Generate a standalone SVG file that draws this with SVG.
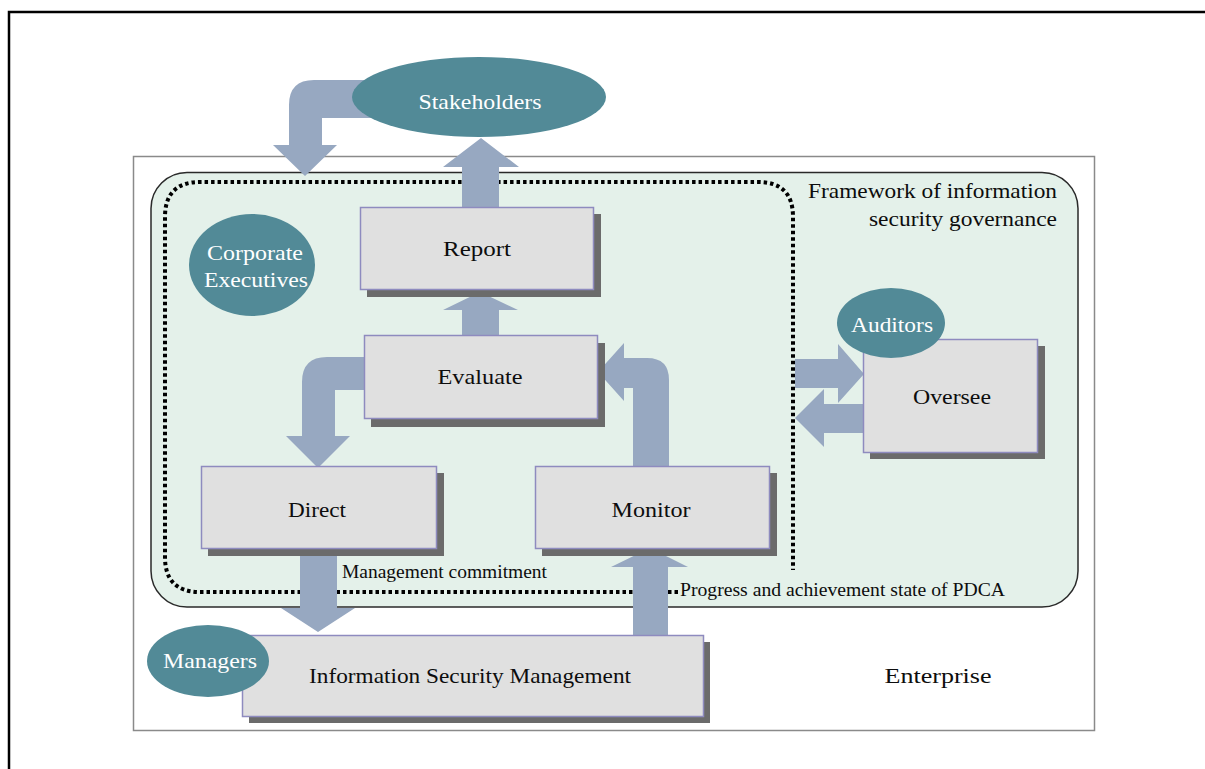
<svg xmlns="http://www.w3.org/2000/svg" width="1205" height="769" viewBox="0 0 1205 769">
<style>
.lbl{font-family:"Liberation Serif","Times New Roman",serif;font-size:22px;fill:#0d0d0d;text-anchor:middle}
.wl{font-family:"Liberation Serif","Times New Roman",serif;font-size:22px;fill:#ffffff;text-anchor:middle}
.sm{font-family:"Liberation Serif","Times New Roman",serif;font-size:18px;fill:#0d0d0d}
.box{fill:#e0e0e0;stroke:#8e8bbf;stroke-width:1.5}
.shadow{fill:#6b6b6b}
.ell{fill:#528a97}
.arr{fill:#97a8c1}
</style>
<rect x="0" y="0" width="1205" height="769" fill="#ffffff"/>
<path d="M9 769 V12 H1205" fill="none" stroke="#000" stroke-width="2.5"/>
<g id="enterprise">
<rect x="133.5" y="156.5" width="961" height="574" fill="#ffffff" stroke="#8a8a8a" stroke-width="1.5"/>
<text class="lbl" x="938" y="683" textLength="107" lengthAdjust="spacingAndGlyphs">Enterprise</text>
</g>
<g id="framework">
<rect x="151" y="172.5" width="927" height="434.5" rx="36" ry="36" fill="#e4f1ea" stroke="#2a2a2a" stroke-width="1.5"/>
<text class="lbl" x="1057" y="198" style="text-anchor:end" textLength="249" lengthAdjust="spacingAndGlyphs">Framework of information</text>
<text class="lbl" x="1057" y="226" style="text-anchor:end" textLength="188" lengthAdjust="spacingAndGlyphs">security governance</text>
</g>
<g id="pdca-boundary">
<path d="M678 592 H200 Q165 592 165 557 V217 Q165 182 200 182 H758 Q793 182 793 217 V570" fill="none" stroke="#000" stroke-width="4" stroke-dasharray="3.5 3"/>
<text class="sm" x="342" y="578" textLength="205" lengthAdjust="spacingAndGlyphs">Management commitment</text>
<text class="sm" x="680" y="596" textLength="325" lengthAdjust="spacingAndGlyphs">Progress and achievement state of PDCA</text>
</g>
<g id="connectors">
<path class="arr" d="M380 80 H314 Q289 80 289 105 V145 H273 L305 176 L337 145 H322 V118 H380 Z"/>
<path class="arr" d="M462 207 V167 H443 L481 138 L519 167 H499 V207 Z"/>
<path class="arr" d="M462 335 V310 H443 L480 292 L518 310 H499 V335 Z"/>
<path class="arr" d="M364 357 H327 Q302 357 302 382 V436 H286 L318 468 L350 436 H335 V390 H364 Z"/>
<path class="arr" d="M633 466 V388 H624 V401 L598 372 L624 343 V358 H647 Q669 358 669 380 V466 Z"/>
<path class="arr" d="M795 359 H838 V344 L864 374 L838 403 V388 H795 Z"/>
<path class="arr" d="M864 404 H824 V389 L795 418 L824 447 V433 H864 Z"/>
<path class="arr" d="M300 548 V608 H281 L318 632 L355 608 H337 V548 Z"/>
<path class="arr" d="M633 636 V567 H611 L650 548 L688 567 H668 V636 Z"/>
</g>
<g id="stakeholders">
<ellipse class="ell" cx="479" cy="97" rx="127" ry="40"/>
<text class="wl" x="480" y="109" textLength="123" lengthAdjust="spacingAndGlyphs">Stakeholders</text>
</g>
<g id="report">
<rect class="shadow" x="367" y="214" width="234" height="83"/>
<rect class="box" x="360.5" y="207.5" width="233" height="82"/>
<text class="lbl" x="477" y="256" textLength="68" lengthAdjust="spacingAndGlyphs">Report</text>
</g>
<g id="corporate-executives">
<ellipse class="ell" cx="252" cy="265" rx="63" ry="51"/>
<text class="wl" x="255" y="260" textLength="96" lengthAdjust="spacingAndGlyphs">Corporate</text>
<text class="wl" x="256" y="287" textLength="104" lengthAdjust="spacingAndGlyphs">Executives</text>
</g>
<g id="evaluate">
<rect class="shadow" x="371" y="343" width="234" height="84"/>
<rect class="box" x="364.5" y="335.5" width="233" height="83"/>
<text class="lbl" x="480" y="384" textLength="85" lengthAdjust="spacingAndGlyphs">Evaluate</text>
</g>
<g id="direct">
<rect class="shadow" x="208" y="473" width="236" height="83"/>
<rect class="box" x="201.5" y="466.5" width="235" height="82"/>
<text class="lbl" x="317" y="517" textLength="58" lengthAdjust="spacingAndGlyphs">Direct</text>
</g>
<g id="monitor">
<rect class="shadow" x="542" y="473" width="235" height="83"/>
<rect class="box" x="535.5" y="466.5" width="234" height="82"/>
<text class="lbl" x="651" y="517" textLength="79" lengthAdjust="spacingAndGlyphs">Monitor</text>
</g>
<g id="oversee">
<rect class="shadow" x="870" y="346" width="175" height="113"/>
<rect class="box" x="863.5" y="339.5" width="174" height="113"/>
<text class="lbl" x="952" y="404" textLength="78" lengthAdjust="spacingAndGlyphs">Oversee</text>
</g>
<g id="auditors">
<ellipse class="ell" cx="891" cy="323" rx="54" ry="35"/>
<text class="wl" x="892" y="332" textLength="82" lengthAdjust="spacingAndGlyphs">Auditors</text>
</g>
<g id="information-security-management">
<rect class="shadow" x="249" y="642" width="461" height="81"/>
<rect class="box" x="242.5" y="635.5" width="461" height="81"/>
<text class="lbl" x="470" y="683" textLength="322" lengthAdjust="spacingAndGlyphs">Information Security Management</text>
</g>
<g id="managers">
<ellipse class="ell" cx="208" cy="661" rx="61" ry="36"/>
<text class="wl" x="210" y="668" textLength="94" lengthAdjust="spacingAndGlyphs">Managers</text>
</g>
</svg>
